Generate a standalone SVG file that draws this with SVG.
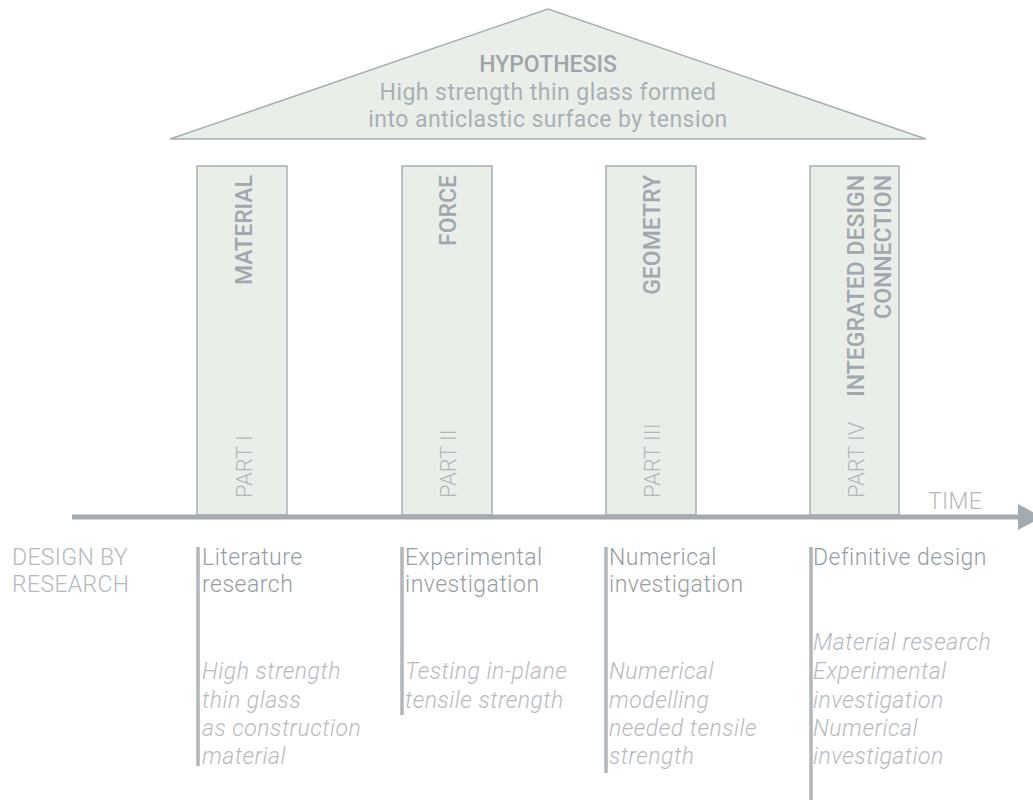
<svg xmlns="http://www.w3.org/2000/svg" width="1033" height="800" viewBox="0 0 1033 800">
<style>
.shape{fill:#eaeee9;stroke:#a7afb4;stroke-width:1.5}
.t{font-family:Roboto,"Liberation Sans",sans-serif}
.head{font-size:23px;font-weight:500;fill:#9ea6ab}
.sub{font-size:23px;font-weight:400;fill:#a9b0b4;letter-spacing:0.45px}
.pil{font-size:23px;font-weight:500;fill:#a0a8ad}
.part{font-size:22px;font-weight:300;fill:#b2b8bc}
.lab{font-size:23px;font-weight:300;fill:#b3b9bd;letter-spacing:0.35px}
.body{font-size:23px;font-weight:300;fill:#979ea3;letter-spacing:0.5px}
.it{font-size:23px;font-weight:300;font-style:italic;fill:#b7bbbe;letter-spacing:0.5px}
.bar{stroke:#b1b6ba;stroke-width:3.5}
</style>
<g id="roof">
<polygon class="shape" points="170,139 548,9 926,139"/>
<text class="t head" x="548" y="72" text-anchor="middle">HYPOTHESIS</text>
<text class="t sub" x="548" y="100" text-anchor="middle">High strength thin glass formed</text>
<text class="t sub" x="548" y="127" text-anchor="middle">into anticlastic surface by tension</text>
</g>
<g id="pillar-material">
<rect class="shape" x="197" y="166" width="90" height="349"/>
<text class="t pil" transform="translate(252,175) rotate(-90)" text-anchor="end">MATERIAL</text>
<text class="t part" transform="translate(252,498) rotate(-90)">PART I</text>
</g>
<g id="pillar-force">
<rect class="shape" x="402" y="166" width="90" height="349"/>
<text class="t pil" transform="translate(456,175) rotate(-90)" text-anchor="end">FORCE</text>
<text class="t part" transform="translate(456,498) rotate(-90)">PART II</text>
</g>
<g id="pillar-geometry">
<rect class="shape" x="606" y="166" width="90" height="349"/>
<text class="t pil" transform="translate(660,175) rotate(-90)" text-anchor="end">GEOMETRY</text>
<text class="t part" transform="translate(660,498) rotate(-90)">PART III</text>
</g>
<g id="pillar-integrated">
<rect class="shape" x="810" y="166" width="89" height="349"/>
<text class="t pil" transform="translate(864,175) rotate(-90)" text-anchor="end">INTEGRATED DESIGN</text>
<text class="t pil" transform="translate(891,175) rotate(-90)" text-anchor="end">CONNECTION</text>
<text class="t part" transform="translate(864,498) rotate(-90)">PART IV</text>
</g>
<g id="connectors">
<line x1="72" y1="517" x2="1018" y2="517" stroke="#a3abb1" stroke-width="5"/>
<polygon points="1018,504 1042,517 1018,530" fill="#a3abb1"/>
<line class="bar" x1="198" y1="547" x2="198" y2="766"/>
<line class="bar" x1="402" y1="547" x2="402" y2="715"/>
<line class="bar" x1="606" y1="547" x2="606" y2="773"/>
<line class="bar" x1="811" y1="547" x2="811" y2="800"/>
</g>
<g id="time-label">
<text class="t lab" x="928" y="509">TIME</text>
</g>
<g id="design-by-research">
<text class="t lab" x="12" y="565">DESIGN BY</text>
<text class="t lab" x="12" y="592">RESEARCH</text>
</g>
<g id="col-1">
<text class="t body" x="202" y="565">Literature</text>
<text class="t body" x="202" y="592">research</text>
<text class="t it" x="202" y="679">High strength</text>
<text class="t it" x="202" y="708">thin glass</text>
<text class="t it" x="202" y="736">as construction</text>
<text class="t it" x="202" y="764">material</text>
</g>
<g id="col-2">
<text class="t body" x="405" y="565">Experimental</text>
<text class="t body" x="405" y="592">investigation</text>
<text class="t it" x="405" y="679">Testing in-plane</text>
<text class="t it" x="405" y="708">tensile strength</text>
</g>
<g id="col-3">
<text class="t body" x="609" y="565">Numerical</text>
<text class="t body" x="609" y="592">investigation</text>
<text class="t it" x="609" y="679">Numerical</text>
<text class="t it" x="609" y="708">modelling</text>
<text class="t it" x="609" y="736">needed tensile</text>
<text class="t it" x="609" y="764">strength</text>
</g>
<g id="col-4">
<text class="t body" x="813" y="565">Definitive design</text>
<text class="t it" x="813" y="650">Material research</text>
<text class="t it" x="813" y="679">Experimental</text>
<text class="t it" x="813" y="708">investigation</text>
<text class="t it" x="813" y="736">Numerical</text>
<text class="t it" x="813" y="764">investigation</text>
</g>
</svg>
